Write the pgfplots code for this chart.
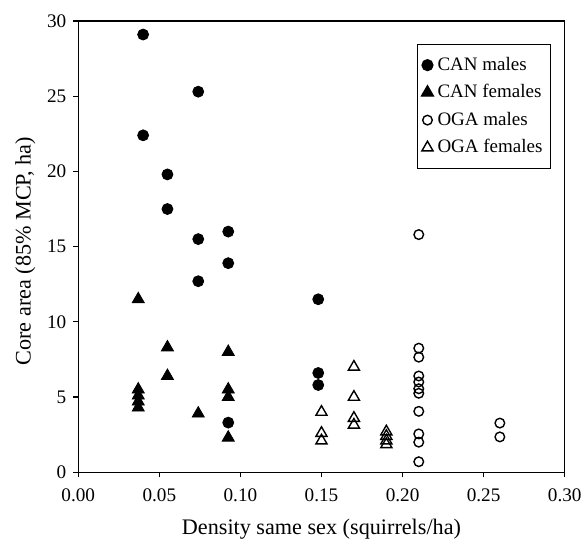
\documentclass[border=0pt]{standalone}
\usepackage{pgfplots}
\pgfplotsset{compat=1.18}
\usepackage{fontspec}
\setmainfont{Liberation Serif}

\begin{document}
\fontsize{9.5bp}{11bp}\selectfont
\begin{tikzpicture}
\begin{axis}[
    scale only axis,
    width=243.35bp, height=225.75bp,
    xmin=0, xmax=0.30, ymin=0, ymax=30,
    xtick={0,0.05,...,0.30},
    ytick={0,5,...,30},
    xtick pos=left, ytick pos=left,
    tick align=outside,
    major tick length=2.6bp,
    axis line style={line width=0.75bp},
    every tick/.style={black, line width=0.6bp},
    xticklabel style={yshift=-2.2bp, /pgf/number format/.cd, fixed, fixed zerofill, precision=2},
    /pgf/number format/assume math mode=true,
    tick label style={font=\fontsize{9.6bp}{11bp}\selectfont},
    xlabel={Density same sex (squirrels/ha)},
    ylabel={Core area (85\% MCP, ha)},
    label style={font=\fontsize{11.1bp}{13bp}\selectfont},
    xlabel style={at={(axis description cs:0.5,-0.126)}, anchor=center},
    ylabel style={at={(axis description cs:-0.109,0.49)}, anchor=center},
    legend style={at={(axis description cs:0.696,0.95)}, anchor=north west,
        draw=black, line width=0.6bp, inner xsep=2bp, inner ysep=4.5bp,
        row sep=1.7bp, font=\fontsize{9.5bp}{11bp}\selectfont,
        cells={anchor=west}},
    legend image code/.code={\draw[#1, only marks] plot coordinates {(0.12cm,0cm)};},
    legend cell align=left,
]
\addplot[only marks, mark=*, mark size=2.75bp, black] coordinates {
    (0.040,29.1) (0.074,25.3) (0.040,22.4) (0.055,19.8) (0.055,17.5)
    (0.074,15.5) (0.0925,16.0) (0.074,12.7) (0.0925,13.9) (0.0925,3.3)
    (0.148,11.5) (0.148,6.6) (0.148,5.8)
};
\addlegendentry{CAN males}
\addplot[only marks, mark=triangle*, mark size=3.5bp, black] coordinates {
    (0.037,11.5) (0.037,5.5) (0.037,5.1) (0.037,4.7) (0.037,4.3)
    (0.055,8.3) (0.055,6.4) (0.074,3.9)
    (0.0925,8.0) (0.0925,5.5) (0.0925,5.0) (0.0925,2.3)
};
\addlegendentry{CAN females}
\addplot[only marks, mark=o, mark size=2.4bp, black, mark options={line width=0.7bp, fill=white}] coordinates {
    (0.21,15.8) (0.21,8.25) (0.21,7.65) (0.21,6.4) (0.21,6.0) (0.21,5.55)
    (0.21,5.25) (0.21,4.05) (0.21,2.55) (0.21,2.0) (0.21,0.7)
    (0.26,3.27) (0.26,2.35)
};
\addlegendentry{OGA males}
\addplot[only marks, mark=triangle, mark size=3.2bp, black, mark options={line width=0.7bp}] coordinates {
    (0.17,7.0) (0.17,5.0) (0.17,3.6) (0.17,3.15)
    (0.15,4.0) (0.15,2.6) (0.15,2.1)
    (0.19,2.7) (0.19,2.4) (0.19,2.1) (0.19,1.85)
};
\addlegendentry{OGA females}
\end{axis}
\pgfresetboundingbox
\path ([shift={(-39.15bp,-36.25bp)}]current axis.south west) rectangle ([shift={(9.65bp,10.5bp)}]current axis.north east);
\end{tikzpicture}
\end{document}
